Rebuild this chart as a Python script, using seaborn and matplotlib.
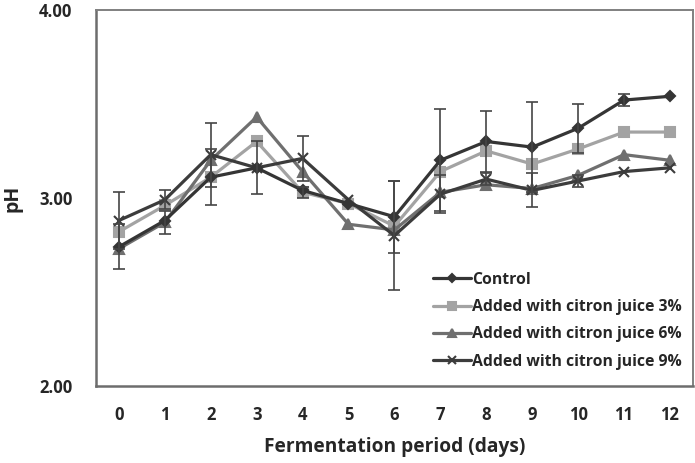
import numpy as np
import pandas as pd
import matplotlib
matplotlib.use('Agg')
import matplotlib.pyplot as plt
import seaborn as sns

# Fermentation days
days = list(range(13))

# pH values
control = [2.74, 2.88, 3.11, 3.16, 3.04, 2.97, 2.90, 3.20, 3.30, 3.27, 3.37, 3.52, 3.54]
citron_3 = [2.82, 2.96, 3.11, 3.30, 3.03, 2.97, 2.85, 3.14, 3.25, 3.18, 3.26, 3.35, 3.35]
citron_6 = [2.73, 2.87, 3.20, 3.43, 3.14, 2.86, 2.83, 3.03, 3.07, 3.05, 3.12, 3.23, 3.20]
citron_9 = [2.88, 2.99, 3.23, 3.16, 3.21, 2.99, 2.80, 3.02, 3.10, 3.04, 3.09, 3.14, 3.16]

# standard deviations (0 = no visible error bar)
control_err = [0.12, 0, 0, 0.14, 0, 0, 0.19, 0.27, 0.16, 0.24, 0.13, 0.03, 0]
citron_3_err = [0, 0, 0.15, 0, 0.03, 0, 0, 0, 0, 0, 0, 0, 0]
citron_6_err = [0, 0.06, 0, 0, 0, 0, 0, 0, 0, 0, 0, 0, 0]
citron_9_err = [0.15, 0.05, 0.17, 0, 0.12, 0, 0.29, 0.10, 0.03, 0.09, 0.03, 0, 0]

labels = ['Control', 'Added with citron juice 3%',
          'Added with citron juice 6%', 'Added with citron juice 9%']

sns.set_style('white')
plt.rcParams['font.family'] = ['Open Sans', 'DejaVu Sans']
plt.rcParams['font.weight'] = 'bold'

fig = plt.figure(figsize=(6.95, 4.63), dpi=100)
ax = fig.add_axes([0.138, 0.166, 0.859, 0.813])

series = [
    (control, control_err, labels[0], '#353535', 'D', 5.5),
    (citron_3, citron_3_err, labels[1], '#a3a3a3', 's', 7.5),
    (citron_6, citron_6_err, labels[2], '#6f6f6f', '^', 7),
    (citron_9, citron_9_err, labels[3], '#3c3c3c', 'x', 6.5),
]

# draw lighter series first so dark lines sit on top
for vals, err, lab, col, mk, ms in [series[1], series[2], series[3], series[0]]:
    df = pd.DataFrame({'day': days, 'pH': vals})
    sns.lineplot(data=df, x='day', y='pH', color=col, marker=mk, markersize=ms,
                 markeredgecolor=col, markeredgewidth=1.5, linewidth=2.3,
                 label=lab, ax=ax, zorder=3)

for vals, err, lab, col, mk, ms in series:
    e = np.array(err)
    m = e > 0
    ax.errorbar(np.array(days)[m], np.array(vals)[m], yerr=e[m], fmt='none',
                ecolor='#454545', elinewidth=1.2, capsize=4, capthick=1.2, zorder=4)

ax.set_xlim(-0.5, 12.5)
ax.set_ylim(2, 4)
ax.set_yticks([2, 3, 4])
ax.set_yticklabels(['2.00', '3.00', '4.00'])
ax.set_xticks(days)
ax.set_xticks(np.arange(-0.5, 13, 1), minor=True)
ax.tick_params(axis='x', which='major', length=0, pad=14, labelsize=12)
ax.tick_params(axis='x', which='minor', length=5, width=1.2, color='#6d6d6d', direction='out')
ax.tick_params(axis='y', length=5, width=1.2, color='#6d6d6d', direction='out', pad=12, labelsize=12)
for lbl in ax.get_xticklabels() + ax.get_yticklabels():
    lbl.set_fontweight('bold')

for side in ['left', 'bottom']:
    ax.spines[side].set_color('#6d6d6d')
    ax.spines[side].set_linewidth(1.8)
for side in ['top', 'right']:
    ax.spines[side].set_color('#808080')
    ax.spines[side].set_linewidth(1.4)

ax.set_xlabel('Fermentation period (days)', fontsize=13.8, fontweight='bold', labelpad=10)
ax.set_ylabel('pH', fontsize=14, fontweight='bold', labelpad=12)

handles, labs = ax.get_legend_handles_labels()
order = [labs.index(l) for l in labels]
ax.legend([handles[i] for i in order], [labs[i] for i in order],
          loc='upper left', bbox_to_anchor=(0.612, 0.43), bbox_transform=fig.transFigure,
          frameon=False, handlelength=2.4, handletextpad=0.1,
          labelspacing=0.72, borderpad=0, markerscale=0.8,
          prop={'weight': 'bold', 'size': 11.3})

fig.savefig('out.png', dpi=100)
